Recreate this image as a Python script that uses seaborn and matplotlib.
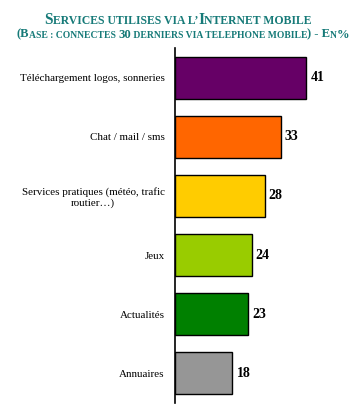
import matplotlib
matplotlib.use("Agg")
import matplotlib.pyplot as plt
import seaborn as sns
import pandas as pd

categories = ["Téléchargement logos, sonneries", "Chat / mail / sms",
              "Services pratiques (météo, trafic\nroutier…)", "Jeux",
              "Actualités", "Annuaires"]
values = [41, 33, 28, 24, 23, 18]
colors = ["#660066", "#FF6600", "#FFCC00", "#99CC00", "#008000", "#969696"]

title1 = [("S", 11.2), ("ERVICES UTILISES VIA L\u2019", 8.5), ("I", 11.2), ("NTERNET MOBILE", 8.5)]
title2 = [("(B", 9.1), ("ASE : CONNECTES ", 6.95), ("30", 9.1), (" DERNIERS VIA TELEPHONE MOBILE", 6.95),
          (") - E", 9.1), ("N", 6.95), ("%", 9.1)]
title_color = "#167A78"

sns.set_theme(style="white")
plt.rcParams['font.family'] = ['Liberation Serif', 'DejaVu Serif']

W, H = 358, 409
fig = plt.figure(figsize=(W / 100, H / 100), dpi=100)
ax = fig.add_axes([174.5 / W, 6 / H, 180 / W, 355 / H])

df = pd.DataFrame({"cat": categories, "val": values})
sns.barplot(data=df, y="cat", x="val", hue="cat", palette=colors, legend=False,
            orient="h", width=0.71, edgecolor="black", linewidth=1.0, ax=ax, saturation=1)

ax.set_xlim(0, 56)
ax.set_ylim(5.5, -0.5)
ax.set_xlabel("")
ax.set_ylabel("")
ax.set_xticks([])
for s in ["top", "right", "bottom"]:
    ax.spines[s].set_visible(False)
ax.spines["left"].set_color("black")
ax.spines["left"].set_linewidth(1.2)
ax.tick_params(axis="y", length=0, pad=7)
for lab in ax.get_yticklabels():
    lab.set_fontsize(7.9)
    lab.set_multialignment("center")
    lab.set_color("black")

for i, v in enumerate(values):
    ax.annotate(str(v), xy=(v, i), xytext=(3, 0), textcoords="offset points",
                ha="left", va="center", fontsize=10, fontweight="bold", color="black")

renderer = fig.canvas.get_renderer()


def draw_line(segments, ybase_px, xc_px):
    texts = []
    x = 0
    for txt, size in segments:
        t = fig.text(x / W, 1 - ybase_px / H, txt, fontsize=size, fontweight="bold",
                     color=title_color, ha="left", va="baseline")
        bb = t.get_window_extent(renderer)
        texts.append((t, x))
        x += bb.width
    total = x
    start = xc_px - total / 2
    for t, off in texts:
        t.set_x((start + off) / W)


draw_line(title1, 24, 178)
draw_line(title2, 37.5, 183)

fig.savefig("out.png", dpi=100)
